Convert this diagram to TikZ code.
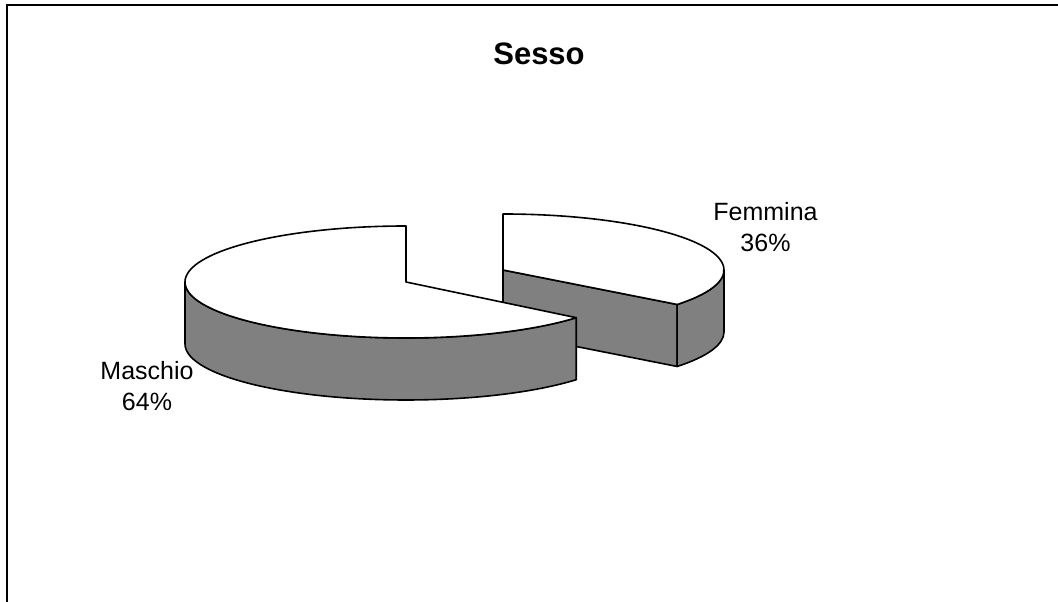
\documentclass[tikz,border=0pt]{standalone}
\usepackage{fontspec}
\setmainfont{Liberation Sans}
\definecolor{FrameColor}{RGB}{0,0,0}
\definecolor{SideColor}{RGB}{128,128,128}
\definecolor{TopColor}{RGB}{255,255,255}
\usetikzlibrary{calc}
\tikzstyle{slicetop} = [fill=TopColor, draw=black, line width=1.6pt, line join=round]
\tikzstyle{sliceside} = [fill=SideColor, draw=black, line width=1.6pt, line join=round]
\tikzset{
  charttitle/.style={font=\fontsize{31}{36}\selectfont\bfseries, inner sep=0pt},
  slicelabel/.style={font=\fontsize{25}{31}\selectfont, align=center, inner sep=0pt}
}
\newcommand{\rx}{221}
\newcommand{\ry}{56}
\newcommand{\depth}{62}
\begin{document}
\begin{tikzpicture}[x=1pt, y=1pt]
                \useasboundingbox (0,0) rectangle (1058,602);
                % Frame
                \draw[FrameColor, line width=1.4pt] (7,0) -- (7,597) -- (1058,597);

                % Title
                \node[charttitle, anchor=base] (title) at (539,537) {Sesso};

                % Femmina slice (pulled out)
                \coordinate (fcentre) at (503,332);
                \coordinate (frim) at ($(fcentre)+({\rx*cos(-38)},{\ry*sin(-38)})$);
                \draw[sliceside] (fcentre) -- (frim) -- ++(0,-\depth) -- ($(fcentre)+(0,-\depth)$) -- cycle;
                \draw[sliceside] (frim) arc[start angle=-38, end angle=0, x radius=\rx, y radius=\ry]
                    -- ++(0,-\depth) arc[start angle=0, end angle=-38, x radius=\rx, y radius=\ry] -- cycle;
                \draw[slicetop] (fcentre) -- (frim) arc[start angle=-38, end angle=90, x radius=\rx, y radius=\ry] -- cycle;

                % Maschio slice
                \coordinate (mcentre) at (406,320);
                \coordinate (mleft) at ($(mcentre)+(-\rx,0)$);
                \coordinate (mtop) at ($(mcentre)+(0,\ry)$);
                \draw[sliceside] (mleft) arc[start angle=180, end angle=320.4, x radius=\rx, y radius=\ry]
                    -- ++(0,-\depth) arc[start angle=320.4, end angle=180, x radius=\rx, y radius=\ry] -- cycle;
                \draw[slicetop] (mcentre) -- (mtop) arc[start angle=90, end angle=320.4, x radius=\rx, y radius=\ry] -- cycle;

                % Labels
                \node[slicelabel] (femmina) at (765.5,375) {Femmina\\36\%};
                \node[slicelabel] (maschio) at (147,216) {Maschio\\64\%};
            \end{tikzpicture}
\end{document}
